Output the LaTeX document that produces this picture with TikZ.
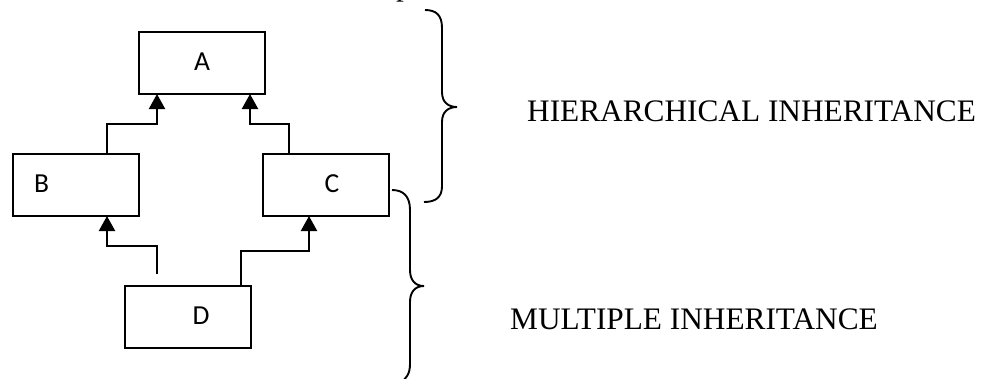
\documentclass[tikz,border=0pt]{standalone}
\usepackage{fontspec}
\setmainfont{Liberation Serif}
\newfontfamily\boxfont{Carlito}
\usetikzlibrary{arrows.meta}
\tikzset{
  cls/.style={draw, line width=2.2pt, minimum width=126pt, minimum height=62pt, inner sep=0pt, outer sep=0pt},
  clslabel/.style={inner sep=0pt, font=\boxfont\fontsize{27.5}{32}\selectfont},
  arr/.style={line width=2.2pt, -{Triangle[width=16pt,length=15pt]}},
  brace/.style={line width=1.9pt},
  side/.style={inner sep=0pt, anchor=base west, font=\fontsize{31.3}{37}\selectfont}
}
\begin{document}
\begin{tikzpicture}[x=1pt,y=-1pt]
\clip (0,0) rectangle (992,378);
\fill[white] (0,0) rectangle (992,378);
% fragment of text above the picture
\node[inner sep=0pt, anchor=base west, font=\fontsize{31.3}{37}\selectfont] (frag) at (396,-4.8) {p};
% classes
\node[cls] (A) at (202,63) {};
\node[cls] (B) at (76,185) {};
\node[cls] (C) at (326,185) {};
\node[cls] (D) at (188,317) {};
\node[clslabel] (la) at (202,62) {A};
\node[clslabel] (lb) at (41.5,184) {B};
\node[clslabel] (lc) at (332,184) {C};
\node[clslabel] (ld) at (201,316) {D};
% connectors
\draw[arr] ([xshift=31pt]B.north) -- ++(0,-30) -| ([xshift=-45pt]A.south);
\draw[arr] ([xshift=-37pt]C.north) -- ++(0,-30) -| ([xshift=48pt]A.south);
\draw[arr] ([xshift=-31pt,yshift=12pt]D.north) -- ++(0,-28) -| ([xshift=31pt]B.south);
\draw[arr] ([xshift=53pt]D.north) -- ++(0,-35) -| ([xshift=-17pt]C.south);
% braces
\draw[brace] (425,10) .. controls (436,10) and (442,15) .. (442,28) -- (442,92)
  .. controls (442,102) and (448,107) .. (457,107)
  .. controls (448,107) and (442,112) .. (442,122) -- (442,186)
  .. controls (442,197) and (436,202) .. (424,202);
\draw[brace] (392,190) .. controls (403,190) and (410,196) .. (410,210) -- (410,270)
  .. controls (410,280) and (415,286) .. (424,286)
  .. controls (415,286) and (410,292) .. (410,302) -- (410,364)
  .. controls (410,374) and (406,379) .. (400,383);
% side labels
\node[side] (hier) at (527,121.5) {HIERARCHICAL INHERITANCE};
\node[side] (mult) at (510,329) {MULTIPLE INHERITANCE};
\end{tikzpicture}
\end{document}
